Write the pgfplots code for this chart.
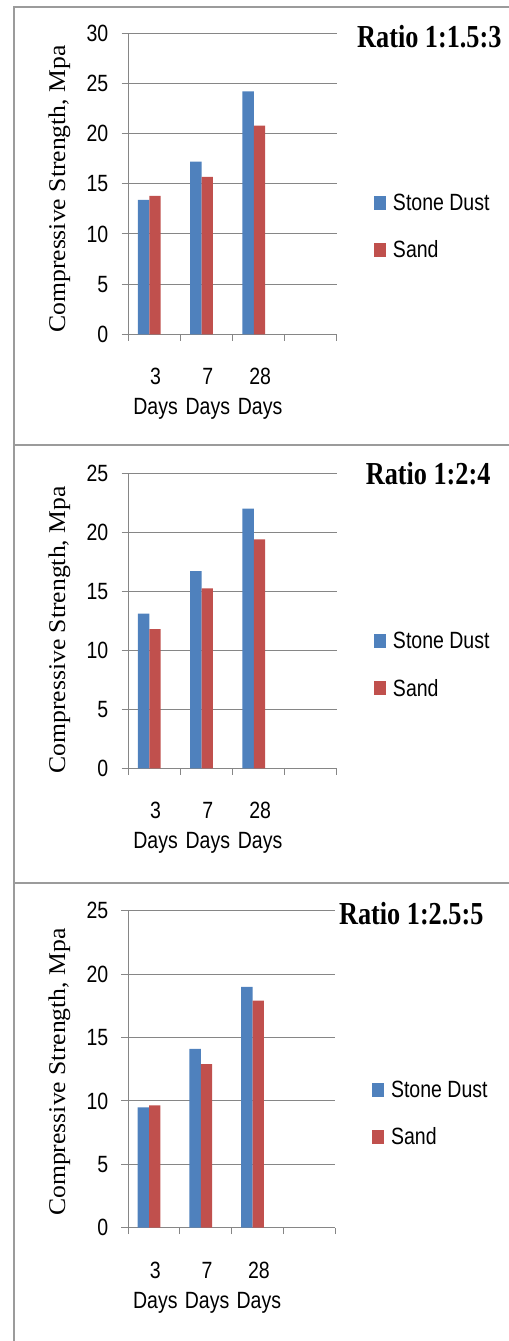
\documentclass[border=0pt]{standalone}
\usepackage{pgfplots}
\pgfplotsset{compat=1.18}
\usepackage{fontspec}
\setmainfont{Liberation Serif}
\newfontfamily\arialc[FakeStretch=0.83]{Liberation Sans}
\newfontfamily\timest[FakeStretch=0.82]{Liberation Serif}
\newfontfamily\timesy[FakeStretch=1.07]{Liberation Serif}
\definecolor{barblue}{RGB}{79,129,189}
\definecolor{barred}{RGB}{192,80,77}
\definecolor{gridgray}{RGB}{134,134,134}
\definecolor{boxgray}{RGB}{155,155,155}
\newcommand\afont{\arialc\fontsize{23.5bp}{30bp}\selectfont}

\pgfplotsset{
 panel/.style={
  scale only axis, width=209bp,
  xmin=0, xmax=4, ymin=0,
  axis x line*=bottom, axis y line*=left,
  axis line style={draw=gridgray, line width=1bp},
  every tick/.style={draw=gridgray, line width=1bp},
  tick align=outside, major tick length=6.5bp,
  xtick={0,1,2,3,4}, xticklabels={},
  extra x ticks={0.5,1.5,2.5},
  extra x tick labels={{3\\Days},{7\\Days},{28\\Days}},
  extra x tick style={major tick length=0pt, grid=none},
  ymajorgrids, grid style={draw=gridgray, line width=1bp},
  /pgf/number format/assume math mode=true,
  ticklabel style={font=\afont},
  xticklabel style={align=center, inner sep=0pt, yshift=-34bp, xshift=1.5bp},
  yticklabel style={inner sep=0pt, xshift=-13bp},
  ybar, bar width=11.3bp,
  legend style={draw=none, fill=none, font=\afont, inner sep=0pt, outer sep=0pt,
    nodes={inner sep=0pt}, row sep=29bp, anchor=north west,
    /tikz/every odd column/.append style={column sep=7bp}},
  legend cell align=left,
  legend image code/.code={\fill[#1] (0bp,-7bp) rectangle (12bp,7bp);},
  ylabel={Compressive Strength, Mpa},
  ylabel style={font=\timesy\fontsize{24bp}{28bp}\selectfont, inner sep=0pt, anchor=base},
  title style={font=\timest\bfseries\fontsize{32bp}{36bp}\selectfont, inner sep=0pt, anchor=base west},
 }
}

\begin{document}
\begin{tikzpicture}
\path[use as bounding box] (0,0) rectangle (509bp,-1341bp);
\draw[boxgray, line width=1.8bp] (14bp,-1341bp) -- (14bp,-6.7bp) -- (509bp,-6.7bp);
\draw[boxgray, line width=1.8bp] (14bp,-445bp) -- (509bp,-445bp);
\draw[boxgray, line width=1.8bp] (14bp,-883.3bp) -- (509bp,-883.3bp);

% Panel 1
\begin{axis}[panel, at={(128bp,-334.3bp)}, anchor=south west,
  height=301bp, ymax=30, ytick={0,5,...,30},
  title={Ratio 1:1.5:3},
  title style={at={(axis description cs:1.0957,0.9336)}},
  ylabel style={at={(axis description cs:-0.3014,0.4827)}},
  legend style={at={(axis description cs:1.177,0.466)}}]
\addplot[fill=barblue, draw=none, bar shift=-10.5bp] coordinates {(0.5,13.4) (1.5,17.2) (2.5,24.2)};
\addplot[fill=barred, draw=none, bar shift=0.8bp] coordinates {(0.5,13.8) (1.5,15.7) (2.5,20.8)};
\legend{Stone Dust, Sand}
\end{axis}

% Panel 2
\begin{axis}[panel, at={(128bp,-768.3bp)}, anchor=south west,
  height=295bp, ymax=25, ytick={0,5,...,25},
  title={Ratio 1:2:4},
  title style={at={(axis description cs:1.137,0.941)}},
  ylabel style={at={(axis description cs:-0.3014,0.469)}},
  legend style={at={(axis description cs:1.177,0.461)}}]
\addplot[fill=barblue, draw=none, bar shift=-10.5bp] coordinates {(0.5,13.1) (1.5,16.7) (2.5,22.0)};
\addplot[fill=barred, draw=none, bar shift=0.8bp] coordinates {(0.5,11.8) (1.5,15.25) (2.5,19.4)};
\legend{Stone Dust, Sand}
\end{axis}

% Panel 3
\begin{axis}[panel, at={(128bp,-1227.7bp)}, anchor=south west, width=207bp,
  height=317bp, ymax=25, ytick={0,5,...,25},
  title={Ratio 1:2.5:5},
  title style={at={(axis description cs:1.019,0.939)}},
  ylabel style={at={(axis description cs:-0.304,0.491)}},
  legend style={at={(axis description cs:1.179,0.464)}}]
\addplot[fill=barblue, draw=none, bar shift=-10.5bp] coordinates {(0.5,9.5) (1.5,14.1) (2.5,19.0)};
\addplot[fill=barred, draw=none, bar shift=0.8bp] coordinates {(0.5,9.65) (1.5,12.9) (2.5,17.9)};
\legend{Stone Dust, Sand}
\end{axis}
\end{tikzpicture}
\end{document}
